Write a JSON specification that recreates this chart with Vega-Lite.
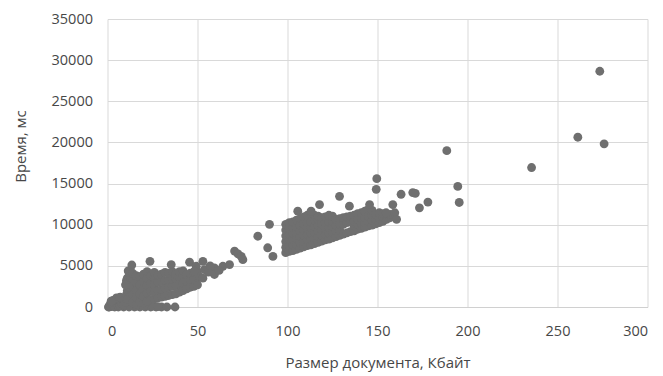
{
  "$schema": "https://vega.github.io/schema/vega-lite/v6.json",
  "width": 540,
  "height": 288,
  "autosize": {"type": "none"},
  "padding": {"left": 107.5, "top": 19, "right": 15.5, "bottom": 69},
  "background": "white",
  "config": {
    "view": {"stroke": null},
    "font": "Open Sans",
    "axis": {
      "labelFont": "Open Sans",
      "titleFont": "Open Sans",
      "labelFontSize": 14.5,
      "titleFontSize": 15,
      "titleFontWeight": "normal",
      "labelColor": "#474747",
      "titleColor": "#474747",
      "gridColor": "#d9d9d9",
      "gridWidth": 1,
      "ticks": false
    }
  },
  "data": {
    "values": [
      {"kb": 0.5, "ms": 0}, {"kb": 1, "ms": 0}, {"kb": 4, "ms": 0}, {"kb": 6, "ms": 0}, {"kb": 9, "ms": 0},
      {"kb": 12, "ms": 0}, {"kb": 15, "ms": 0}, {"kb": 18, "ms": 0}, {"kb": 21, "ms": 0}, {"kb": 24, "ms": 0},
      {"kb": 27, "ms": 0}, {"kb": 30, "ms": 0}, {"kb": 33, "ms": 0}, {"kb": 37.5, "ms": 0},
      {"kb": 1, "ms": 150}, {"kb": 1.5, "ms": 300}, {"kb": 2, "ms": 50}, {"kb": 2.5, "ms": 400}, {"kb": 3, "ms": 200},
      {"kb": 3.5, "ms": 600}, {"kb": 4, "ms": 100}, {"kb": 4.5, "ms": 350}, {"kb": 5, "ms": 700}, {"kb": 5.5, "ms": 250},
      {"kb": 6, "ms": 500}, {"kb": 6.5, "ms": 900}, {"kb": 7, "ms": 150}, {"kb": 7.5, "ms": 650}, {"kb": 8, "ms": 400},
      {"kb": 8.5, "ms": 1000}, {"kb": 9, "ms": 250}, {"kb": 9.5, "ms": 800}, {"kb": 10, "ms": 550}, {"kb": 3, "ms": 800},
      {"kb": 5, "ms": 1100}, {"kb": 7, "ms": 1200}, {"kb": 2, "ms": 700}, {"kb": 16, "ms": 100}, {"kb": 20, "ms": 150},
      {"kb": 25, "ms": 100}, {"kb": 28, "ms": 50},
      {"kb": 10.5, "ms": 1500}, {"kb": 11, "ms": 2000}, {"kb": 11.5, "ms": 2500}, {"kb": 12, "ms": 3000}, {"kb": 11, "ms": 3500},
      {"kb": 12.5, "ms": 4000}, {"kb": 11.5, "ms": 4400}, {"kb": 10.5, "ms": 3200}, {"kb": 12, "ms": 1200}, {"kb": 13, "ms": 2200},
      {"kb": 13.5, "ms": 5100}, {"kb": 10, "ms": 2700}, {"kb": 11, "ms": 900}, {"kb": 13, "ms": 3600}, {"kb": 12, "ms": 4200},
      {"kb": 14, "ms": 500}, {"kb": 14, "ms": 1500}, {"kb": 14, "ms": 2500}, {"kb": 14, "ms": 3500}, {"kb": 14, "ms": 4100},
      {"kb": 16, "ms": 300}, {"kb": 16, "ms": 1200}, {"kb": 16, "ms": 2000}, {"kb": 16, "ms": 3000}, {"kb": 16, "ms": 3800},
      {"kb": 18, "ms": 600}, {"kb": 18, "ms": 1600}, {"kb": 18, "ms": 2700}, {"kb": 18, "ms": 3700},
      {"kb": 20, "ms": 500}, {"kb": 20, "ms": 1300}, {"kb": 20, "ms": 2200}, {"kb": 20, "ms": 3100}, {"kb": 20, "ms": 4000},
      {"kb": 22, "ms": 700}, {"kb": 22, "ms": 1700}, {"kb": 22, "ms": 2600}, {"kb": 22, "ms": 3500}, {"kb": 22, "ms": 4300},
      {"kb": 24, "ms": 900}, {"kb": 24, "ms": 1900}, {"kb": 24, "ms": 2900}, {"kb": 24, "ms": 3800}, {"kb": 23.6, "ms": 5550},
      {"kb": 26, "ms": 1000}, {"kb": 26, "ms": 1800}, {"kb": 26, "ms": 2700}, {"kb": 26, "ms": 3600}, {"kb": 26, "ms": 4200},
      {"kb": 28, "ms": 1100}, {"kb": 28, "ms": 2000}, {"kb": 28, "ms": 3000}, {"kb": 28, "ms": 3900},
      {"kb": 30, "ms": 1200}, {"kb": 30, "ms": 2100}, {"kb": 30, "ms": 3100}, {"kb": 30, "ms": 4000},
      {"kb": 32, "ms": 1300}, {"kb": 32, "ms": 2300}, {"kb": 32, "ms": 3200}, {"kb": 32, "ms": 4200},
      {"kb": 34, "ms": 1400}, {"kb": 34, "ms": 2400}, {"kb": 34, "ms": 3300}, {"kb": 34, "ms": 4100},
      {"kb": 36, "ms": 1500}, {"kb": 36, "ms": 2500}, {"kb": 36, "ms": 3400}, {"kb": 36, "ms": 4300},
      {"kb": 38, "ms": 1600}, {"kb": 38, "ms": 2600}, {"kb": 38, "ms": 3500}, {"kb": 38, "ms": 4000},
      {"kb": 40, "ms": 1800}, {"kb": 40, "ms": 2800}, {"kb": 40, "ms": 3700}, {"kb": 40, "ms": 4300},
      {"kb": 42, "ms": 2000}, {"kb": 42, "ms": 2900}, {"kb": 42, "ms": 3800}, {"kb": 42, "ms": 4400},
      {"kb": 44, "ms": 2200}, {"kb": 44, "ms": 3100}, {"kb": 44, "ms": 3900},
      {"kb": 46, "ms": 2400}, {"kb": 46, "ms": 3300}, {"kb": 46, "ms": 4100},
      {"kb": 48, "ms": 2500}, {"kb": 48, "ms": 3400}, {"kb": 48, "ms": 4200},
      {"kb": 50, "ms": 2700}, {"kb": 50, "ms": 3600}, {"kb": 50, "ms": 4300},
      {"kb": 35.4, "ms": 5150}, {"kb": 45.6, "ms": 5450}, {"kb": 49.3, "ms": 4950}, {"kb": 53, "ms": 5550},
      {"kb": 53.9, "ms": 4550}, {"kb": 51, "ms": 3700}, {"kb": 53, "ms": 3500}, {"kb": 59.4, "ms": 4750},
      {"kb": 59.4, "ms": 3950}, {"kb": 64.1, "ms": 4950}, {"kb": 67.8, "ms": 5150}, {"kb": 70.6, "ms": 6800},
      {"kb": 72.5, "ms": 6450}, {"kb": 74.3, "ms": 6150}, {"kb": 75.2, "ms": 5750}, {"kb": 83.5, "ms": 8600},
      {"kb": 89, "ms": 7200}, {"kb": 91.9, "ms": 6150}, {"kb": 90, "ms": 10050}, {"kb": 56, "ms": 4250},
      {"kb": 62, "ms": 4450}, {"kb": 48.3, "ms": 4350}, {"kb": 57, "ms": 5000},
      {"kb": 99, "ms": 6600}, {"kb": 99, "ms": 7250}, {"kb": 99, "ms": 7950}, {"kb": 99, "ms": 8650}, {"kb": 99, "ms": 9350}, {"kb": 99, "ms": 10050},
      {"kb": 101, "ms": 6750}, {"kb": 101, "ms": 7450}, {"kb": 101, "ms": 8150}, {"kb": 101, "ms": 8850}, {"kb": 101, "ms": 9550}, {"kb": 101, "ms": 10250},
      {"kb": 103, "ms": 6850}, {"kb": 103, "ms": 7550}, {"kb": 103, "ms": 8250}, {"kb": 103, "ms": 8950}, {"kb": 103, "ms": 9650}, {"kb": 103, "ms": 10350},
      {"kb": 105, "ms": 7000}, {"kb": 105, "ms": 7650}, {"kb": 105, "ms": 8350}, {"kb": 105, "ms": 9050}, {"kb": 105, "ms": 9750}, {"kb": 105, "ms": 10550},
      {"kb": 107, "ms": 7150}, {"kb": 107, "ms": 7850}, {"kb": 107, "ms": 8550}, {"kb": 107, "ms": 9250}, {"kb": 107, "ms": 9950}, {"kb": 107, "ms": 10750},
      {"kb": 109, "ms": 7300}, {"kb": 109, "ms": 8000}, {"kb": 109, "ms": 8700}, {"kb": 109, "ms": 9400}, {"kb": 109, "ms": 10100}, {"kb": 109, "ms": 10950},
      {"kb": 111, "ms": 7450}, {"kb": 111, "ms": 8150}, {"kb": 111, "ms": 8850}, {"kb": 111, "ms": 9550}, {"kb": 111, "ms": 10250}, {"kb": 111, "ms": 11150},
      {"kb": 113, "ms": 7550}, {"kb": 113, "ms": 8250}, {"kb": 113, "ms": 8950}, {"kb": 113, "ms": 9650}, {"kb": 113, "ms": 10350}, {"kb": 113, "ms": 11350},
      {"kb": 115, "ms": 7700}, {"kb": 115, "ms": 8400}, {"kb": 115, "ms": 9100}, {"kb": 115, "ms": 9800}, {"kb": 115, "ms": 10550}, {"kb": 115, "ms": 11150},
      {"kb": 117, "ms": 7850}, {"kb": 117, "ms": 8550}, {"kb": 117, "ms": 9250}, {"kb": 117, "ms": 9950}, {"kb": 117, "ms": 10650}, {"kb": 117, "ms": 11050},
      {"kb": 119, "ms": 8000}, {"kb": 119, "ms": 8700}, {"kb": 119, "ms": 9400}, {"kb": 119, "ms": 10100}, {"kb": 119, "ms": 10850},
      {"kb": 121, "ms": 8150}, {"kb": 121, "ms": 8850}, {"kb": 121, "ms": 9550}, {"kb": 121, "ms": 10250}, {"kb": 121, "ms": 10950},
      {"kb": 123, "ms": 8250}, {"kb": 123, "ms": 8950}, {"kb": 123, "ms": 9650}, {"kb": 123, "ms": 10350}, {"kb": 123, "ms": 11150},
      {"kb": 125, "ms": 8400}, {"kb": 125, "ms": 9100}, {"kb": 125, "ms": 9800}, {"kb": 125, "ms": 10450}, {"kb": 125, "ms": 11050},
      {"kb": 127, "ms": 8550}, {"kb": 127, "ms": 9250}, {"kb": 127, "ms": 9950}, {"kb": 127, "ms": 10650},
      {"kb": 129, "ms": 8700}, {"kb": 129, "ms": 9350}, {"kb": 129, "ms": 10050}, {"kb": 129, "ms": 10750},
      {"kb": 131, "ms": 8850}, {"kb": 131, "ms": 10050}, {"kb": 131, "ms": 10850},
      {"kb": 133, "ms": 9000}, {"kb": 133, "ms": 10250}, {"kb": 133, "ms": 10950},
      {"kb": 135, "ms": 9150}, {"kb": 135, "ms": 10350}, {"kb": 135, "ms": 11050},
      {"kb": 137, "ms": 9250}, {"kb": 137, "ms": 9850}, {"kb": 137, "ms": 10450}, {"kb": 137, "ms": 11150},
      {"kb": 139, "ms": 9450}, {"kb": 139, "ms": 10050}, {"kb": 139, "ms": 10650}, {"kb": 139, "ms": 11350},
      {"kb": 141, "ms": 9550}, {"kb": 141, "ms": 10150}, {"kb": 141, "ms": 10750}, {"kb": 141, "ms": 11450},
      {"kb": 143, "ms": 9700}, {"kb": 143, "ms": 10250}, {"kb": 143, "ms": 10850}, {"kb": 143, "ms": 11650},
      {"kb": 145, "ms": 9850}, {"kb": 145, "ms": 10400}, {"kb": 145, "ms": 11050}, {"kb": 145, "ms": 11850},
      {"kb": 147, "ms": 9950}, {"kb": 147, "ms": 10550}, {"kb": 147, "ms": 11150}, {"kb": 147, "ms": 11750},
      {"kb": 149, "ms": 10100}, {"kb": 149, "ms": 10650}, {"kb": 149, "ms": 11250},
      {"kb": 151, "ms": 10250}, {"kb": 151, "ms": 10750}, {"kb": 151, "ms": 11450},
      {"kb": 153, "ms": 10400}, {"kb": 153, "ms": 10950}, {"kb": 153, "ms": 11350},
      {"kb": 155, "ms": 10650}, {"kb": 155, "ms": 11150},
      {"kb": 157, "ms": 10850}, {"kb": 157, "ms": 11250},
      {"kb": 105.7, "ms": 11650}, {"kb": 113.1, "ms": 11650}, {"kb": 117.8, "ms": 12450}, {"kb": 128.9, "ms": 13450},
      {"kb": 134.4, "ms": 12250}, {"kb": 145.6, "ms": 12450}, {"kb": 149.3, "ms": 14300}, {"kb": 149.6, "ms": 15600},
      {"kb": 154.8, "ms": 11450}, {"kb": 158.5, "ms": 12450}, {"kb": 159.6, "ms": 11450}, {"kb": 160.6, "ms": 10650},
      {"kb": 163.1, "ms": 13700}, {"kb": 169.6, "ms": 13900}, {"kb": 171, "ms": 13800}, {"kb": 173.3, "ms": 12050},
      {"kb": 178, "ms": 12750}, {"kb": 188.5, "ms": 19000}, {"kb": 194.6, "ms": 14650}, {"kb": 195.4, "ms": 12700},
      {"kb": 235.6, "ms": 16950}, {"kb": 261.3, "ms": 20630}, {"kb": 273.5, "ms": 28650}, {"kb": 275.9, "ms": 19830}
    ]
  },
  "mark": {"type": "circle", "size": 78, "color": "#6f6f6f", "opacity": 1},
  "encoding": {
    "x": {
      "field": "kb",
      "type": "quantitative",
      "scale": {"domain": [0, 300], "nice": false, "zero": true},
      "axis": {
        "values": [0, 50, 100, 150, 200, 250, 300],
        "format": "d",
        "title": "Размер документа, Кбайт",
        "domainColor": "#d0d0d0",
        "labelPadding": 17,
        "titleY": 55,
        "titleBaseline": "middle"
      }
    },
    "y": {
      "field": "ms",
      "type": "quantitative",
      "scale": {"domain": [0, 35000], "nice": false},
      "axis": {
        "values": [0, 5000, 10000, 15000, 20000, 25000, 30000, 35000],
        "format": "d",
        "title": "Время, мс",
        "domain": false,
        "labelPadding": 15,
        "titleX": -87.5,
        "titleY": 127,
        "titleBaseline": "middle",
        "titleAlign": "center"
      }
    }
  }
}
